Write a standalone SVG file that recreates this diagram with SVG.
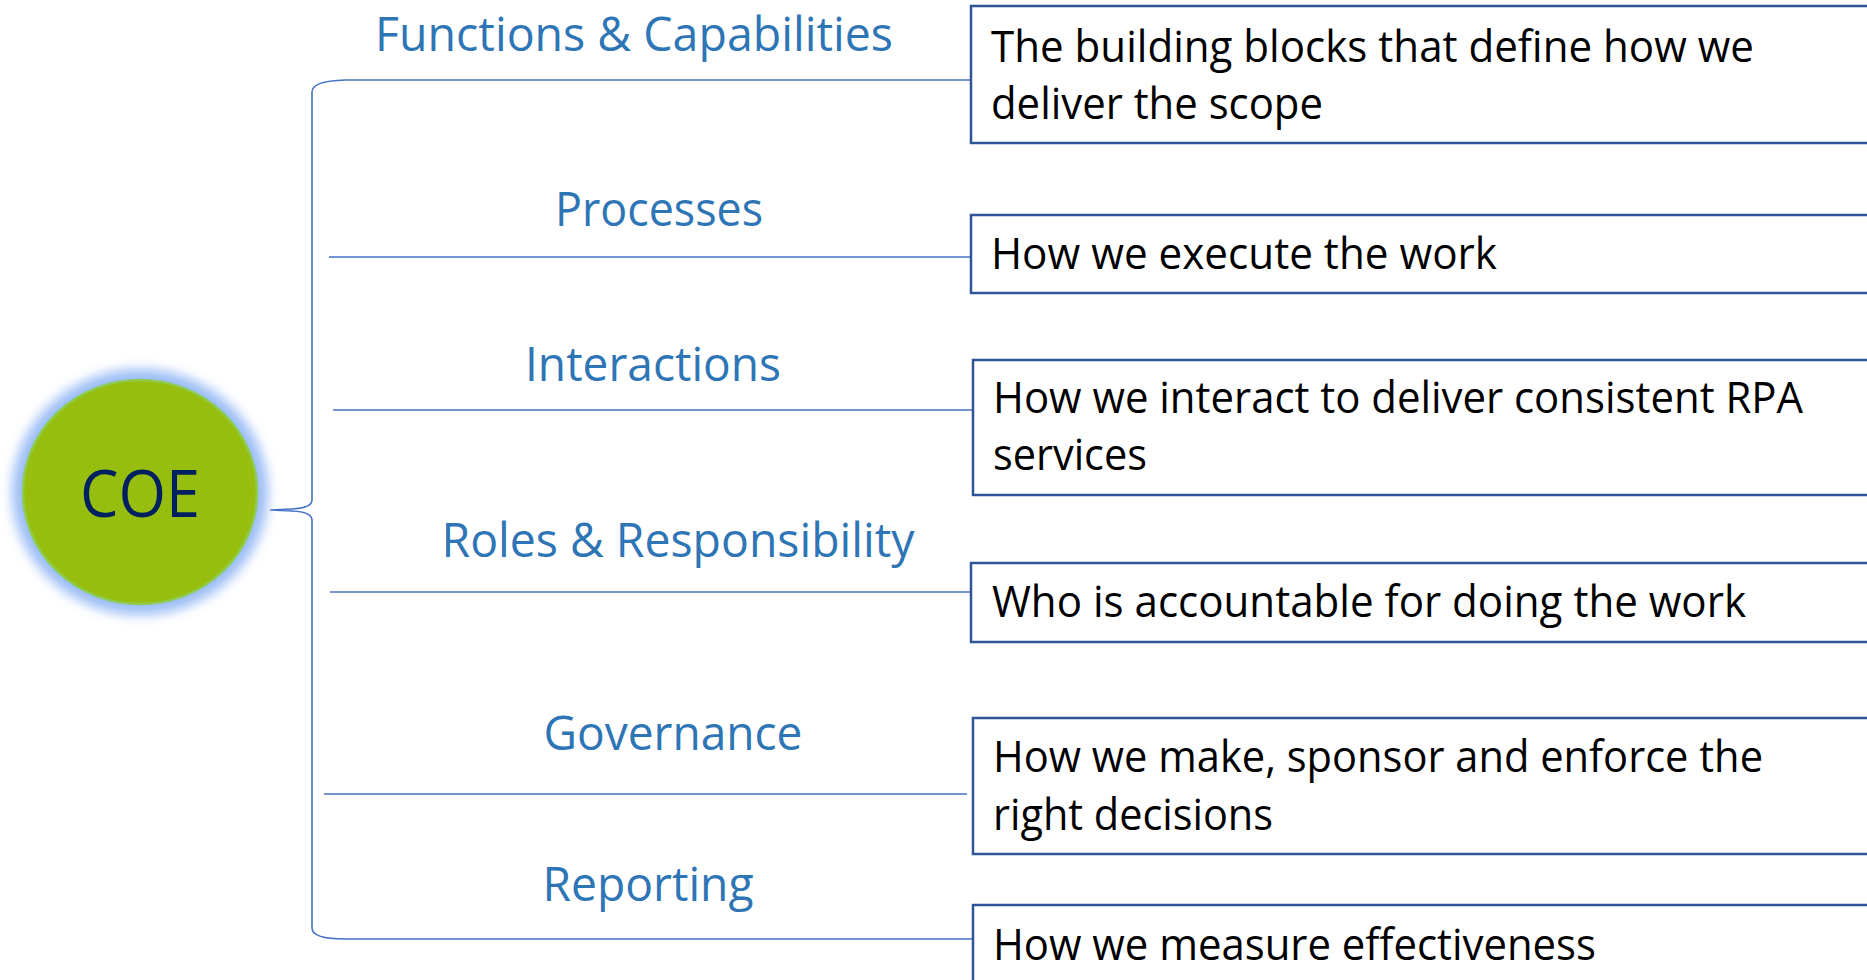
<svg xmlns="http://www.w3.org/2000/svg" width="1867" height="980" viewBox="0 0 1867 980">
<defs>
<filter id="glow" x="-25%" y="-25%" width="150%" height="150%">
<feGaussianBlur stdDeviation="6"/>
</filter>
<style>
.lbl{font-family:"Open Sans","Noto Sans","Liberation Sans",sans-serif;font-size:47px;fill:#2E75B6;text-anchor:middle}
.desc{font-family:"Open Sans","Noto Sans","Liberation Sans",sans-serif;font-size:43px;fill:#000000}
.box{fill:#FFFFFF;stroke:#2F5597;stroke-width:2.5}
.conn{fill:none;stroke:#4472C4;stroke-width:1.6}
</style>
</defs>
<rect x="0" y="0" width="1867" height="980" fill="#FFFFFF"/>

<g id="connectors">
<path class="conn" d="M 312 500 Q 312 508 292 509 L 270 510 M 312 520 Q 312 512 292 511 L 270 510"/>
<path class="conn" d="M 312 500 L 312 92 Q 312 81 345 80 L 972 80"/>
<path class="conn" d="M 312 520 L 312 928 Q 312 939 345 939 L 986 939"/>
<line class="conn" x1="329" y1="257" x2="970" y2="257"/>
<line class="conn" x1="333" y1="410" x2="976" y2="410"/>
<line class="conn" x1="330" y1="592" x2="970" y2="592"/>
<line class="conn" x1="324" y1="794" x2="967" y2="794"/>
</g>

<g id="coe">
<ellipse cx="140" cy="492" rx="128" ry="123" fill="#9BBDF6" filter="url(#glow)"/>
<ellipse cx="140" cy="492" rx="117" ry="112" fill="#97BE0F" stroke="#8CCB4E" stroke-width="2.5"/>
<text x="140" y="517" font-family="'Open Sans','Noto Sans','Liberation Sans',sans-serif" font-size="66" fill="#002060" text-anchor="middle" textLength="120" lengthAdjust="spacingAndGlyphs">COE</text>
</g>

<g id="functions">
<text class="lbl" x="634" y="51" textLength="518" lengthAdjust="spacingAndGlyphs">Functions &amp; Capabilities</text>
<rect class="box" x="971" y="6" width="920" height="137"/>
<text class="desc" x="991" y="62" textLength="763" lengthAdjust="spacingAndGlyphs">The building blocks that define how we</text>
<text class="desc" x="991" y="119" textLength="332" lengthAdjust="spacingAndGlyphs">deliver the scope</text>
</g>

<g id="processes">
<text class="lbl" x="659" y="226" textLength="208" lengthAdjust="spacingAndGlyphs">Processes</text>
<rect class="box" x="971" y="215" width="920" height="78"/>
<text class="desc" x="991" y="269" textLength="506" lengthAdjust="spacingAndGlyphs">How we execute the work</text>
</g>

<g id="interactions">
<text class="lbl" x="653" y="381" textLength="256" lengthAdjust="spacingAndGlyphs">Interactions</text>
<rect class="box" x="973" y="360" width="920" height="135"/>
<text class="desc" x="993" y="413" textLength="810" lengthAdjust="spacingAndGlyphs">How we interact to deliver consistent RPA</text>
<text class="desc" x="993" y="470" textLength="154" lengthAdjust="spacingAndGlyphs">services</text>
</g>

<g id="roles">
<text class="lbl" x="678" y="557" textLength="473" lengthAdjust="spacingAndGlyphs">Roles &amp; Responsibility</text>
<rect class="box" x="971" y="563" width="920" height="79"/>
<text class="desc" x="992" y="617" textLength="754" lengthAdjust="spacingAndGlyphs">Who is accountable for doing the work</text>
</g>

<g id="governance">
<text class="lbl" x="673" y="750" textLength="259" lengthAdjust="spacingAndGlyphs">Governance</text>
<rect class="box" x="973" y="718" width="920" height="136"/>
<text class="desc" x="993" y="772" textLength="770" lengthAdjust="spacingAndGlyphs">How we make, sponsor and enforce the</text>
<text class="desc" x="993" y="830" textLength="280" lengthAdjust="spacingAndGlyphs">right decisions</text>
</g>

<g id="reporting">
<text class="lbl" x="648" y="901" textLength="211" lengthAdjust="spacingAndGlyphs">Reporting</text>
<rect class="box" x="973" y="905" width="920" height="120"/>
<text class="desc" x="993" y="960" textLength="603" lengthAdjust="spacingAndGlyphs">How we measure effectiveness</text>
</g>
</svg>
